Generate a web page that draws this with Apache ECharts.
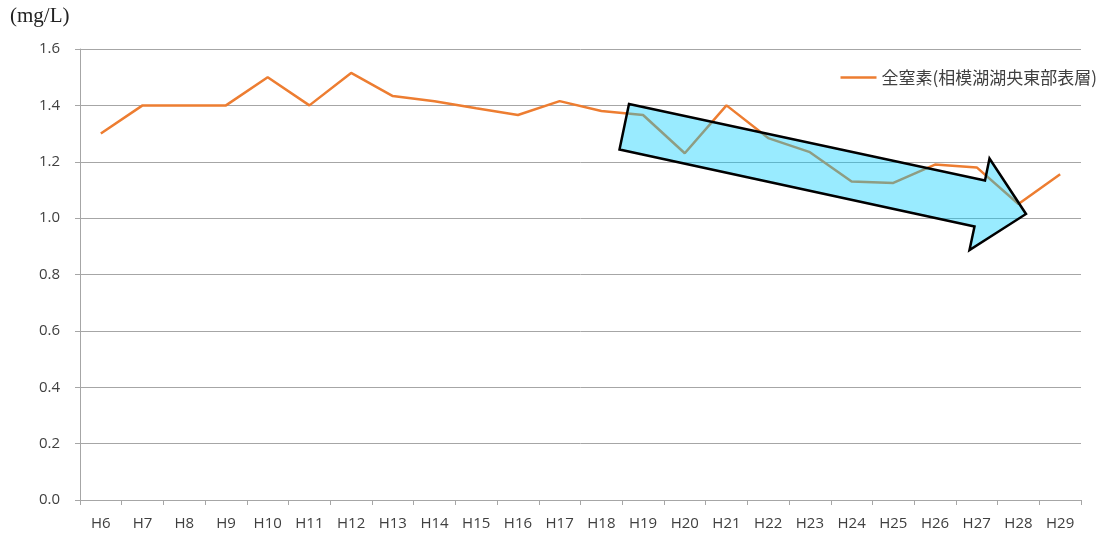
<!DOCTYPE html>
<html>
<head>
<meta charset="utf-8">
<script src="https://cdn.jsdelivr.net/npm/echarts@6/dist/echarts.min.js"></script>
<style>
  html, body { margin: 0; padding: 0; background: #fff; }
  #main { width: 1105px; height: 533px; }
</style>
</head>
<body>
<div id="main"></div>
<script>
var years = ['H6', 'H7', 'H8', 'H9', 'H10', 'H11', 'H12', 'H13', 'H14', 'H15', 'H16', 'H17',
  'H18', 'H19', 'H20', 'H21', 'H22', 'H23', 'H24', 'H25', 'H26', 'H27', 'H28', 'H29']
var totalN = [1.30, 1.40, 1.40, 1.40, 1.50, 1.40, 1.515, 1.433, 1.415, 1.39, 1.366, 1.415,
  1.38, 1.366, 1.23, 1.40, 1.284, 1.234, 1.13, 1.125, 1.19, 1.18, 1.05, 1.156]
var seriesName = '全窒素(相模湖湖央東部表層)'

var chartDom = document.getElementById('main')
var myChart = echarts.init(chartDom)
var option

option = {
  animation: false,
  grid: { left: 80, right: 24, top: 49, bottom: 33 },
  legend: {
    right: 3,
    top: 64,
    itemWidth: 36,
    itemGap: 4,
    icon: 'path://M0,0 L36,0 L36,2.5 L0,2.5 Z',
    textStyle: { fontSize: 17, color: '#404040', fontFamily: 'Noto Sans CJK JP' },
    data: [seriesName]
  },
  graphic: [
    {
      type: 'text',
      left: 10,
      top: 6,
      style: { text: '(mg/L)', fontSize: 21, fill: '#222', fontFamily: 'Liberation Serif' }
    },
    {
      type: 'polygon',
      z: 100,
      shape: {
        points: [[629, 104], [985, 180.5], [989.5, 158.5], [1026, 214], [969.5, 250], [974.5, 226.5], [619.5, 149.5]]
      },
      style: { fill: 'rgba(0, 204, 255, 0.4)', stroke: '#000', lineWidth: 2.5, lineJoin: 'miter' }
    }
  ],
  xAxis: {
    type: 'category',
    data: years,
    boundaryGap: true,
    axisLine: { lineStyle: { color: '#a6a6a6', width: 1 } },
    axisTick: { show: true, length: 5, interval: 0, lineStyle: { color: '#a6a6a6' } },
    axisLabel: { color: '#404040', fontSize: 15, margin: 16, interval: 0, fontFamily: 'Open Sans' }
  },
  yAxis: {
    type: 'value',
    min: 0,
    max: 1.6,
    interval: 0.2,
    axisLine: { show: true, lineStyle: { color: '#a6a6a6' } },
    axisTick: { show: true, length: 5, lineStyle: { color: '#a6a6a6' } },
    splitLine: { lineStyle: { color: '#a6a6a6', width: 1 } },
    axisLabel: {
      color: '#404040',
      fontSize: 15,
      margin: 20,
      fontFamily: 'Open Sans',
      formatter: function (v) { return v.toFixed(1) }
    }
  },
  series: [
    {
      name: seriesName,
      type: 'line',
      data: totalN,
      symbol: 'none',
      lineStyle: { color: '#ed7d31', width: 2.5 },
      itemStyle: { color: '#ed7d31' }
    }
  ]
}

option && myChart.setOption(option)
</script>
</body>
</html>
